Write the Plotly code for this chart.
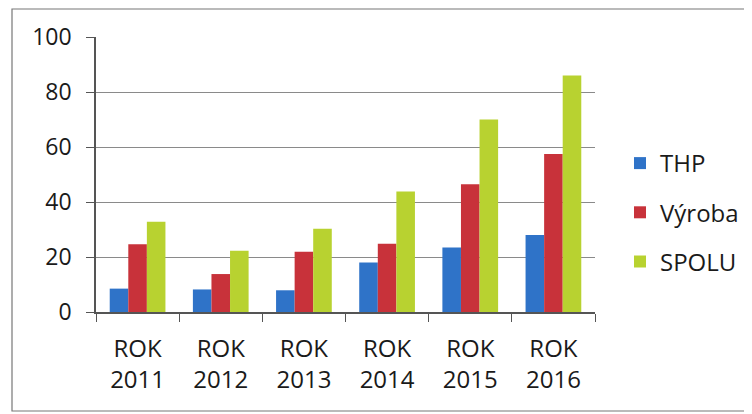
import plotly.graph_objects as go

categories = ["ROK<br>2011", "ROK<br>2012", "ROK<br>2013", "ROK<br>2014", "ROK<br>2015", "ROK<br>2016"]
thp = [8.5, 8.2, 7.9, 18.0, 23.5, 28.0]
vyroba = [24.6, 13.8, 21.9, 24.8, 46.5, 57.5]
spolu = [32.8, 22.3, 30.3, 43.8, 70.0, 86.0]
y_ticks = [0, 20, 40, 60, 80, 100]

FONT = "Open Sans"
fig = go.Figure()
fig.add_trace(go.Bar(x=categories, y=thp, name="THP", marker=dict(color="#2f73c8", line=dict(width=0)), legendgroup="a"))
fig.add_trace(go.Bar(x=categories, y=vyroba, name="Výroba", marker=dict(color="#c8323a", line=dict(width=0)), legendgroup="b"))
fig.add_trace(go.Bar(x=categories, y=spolu, name="SPOLU", marker=dict(color="#b8d230", line=dict(width=0)), legendgroup="c"))

OFF = 8  # page body margin
L, R, T, B = 96 - OFF, 595 - OFF, 37 - OFF, 312 - OFF
W, H = 752 - OFF, 414 - OFF
pw, ph = R - L, B - T

def px_x(p):
    return (p - OFF - L) / pw

def px_y(p):
    return (B - (p - OFF)) / ph

fig.update_layout(
    width=W, height=H,
    margin=dict(l=L, r=W - R, t=T, b=H - B, autoexpand=False),
    paper_bgcolor="white", plot_bgcolor="white",
    barmode="group", bargap=0.33, bargroupgap=0,
    font=dict(family=FONT, size=24, color="#1a1a1a"),
    showlegend=True,
    legend=dict(x=px_x(620), y=px_y(141), xanchor="left", yanchor="top",
                traceorder="grouped", tracegroupgap=15,
                font=dict(family=FONT, size=24, color="#1a1a1a"),
                bgcolor="rgba(0,0,0,0)"),
    xaxis=dict(type="category", showline=True, linecolor="#555", linewidth=1.5,
               ticks="outside", tickson="boundaries", ticklen=8, tickcolor="#555",
               showgrid=False, tickfont=dict(size=24), automargin=False,
               ticklabelstandoff=14),
    yaxis=dict(range=[0, 100], tickvals=y_ticks, showline=True, linecolor="#555", linewidth=1.5,
               ticks="outside", ticklen=8, tickcolor="#555",
               showgrid=True, gridcolor="#8a8a8a", gridwidth=1,
               zeroline=False, tickfont=dict(size=23), ticklabelstandoff=10, automargin=False),
    shapes=[dict(type="rect", xref="paper", yref="paper",
                 x0=px_x(12), x1=px_x(754), y0=px_y(411), y1=px_y(9),
                 line=dict(color="#777", width=1.2), fillcolor="rgba(0,0,0,0)", layer="below")],
)

fig.write_html("out.html")
